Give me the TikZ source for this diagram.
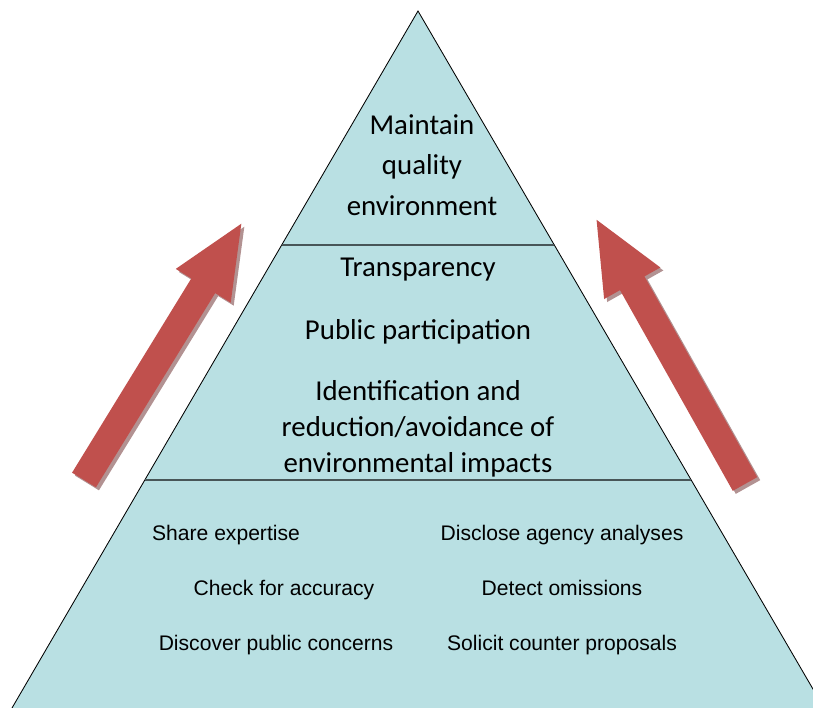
\documentclass[tikz,border=0pt]{standalone}
\usepackage{fontspec}
\setmainfont{Carlito}
\newfontfamily\arialfont{Liberation Sans}
\usetikzlibrary{arrows.meta, positioning, calc}
\definecolor{pyrfill}{RGB}{185,224,227}
\definecolor{pyrline}{RGB}{72,86,88}
\definecolor{arrowred}{RGB}{192,80,77}
\definecolor{arrowgray}{RGB}{178,146,146}

\begin{document}
\begin{tikzpicture}[x=0.025cm, y=-0.025cm,
    toptext/.style={font=\fontsize{20.5}{29}\selectfont, align=center, inner sep=0pt},
    lowtext/.style={font=\arialfont\fontsize{15}{18}\selectfont, inner sep=0pt,
        text height=11pt, text depth=3.2pt},
    upshaft/.style={line width=0.7cm, -{Triangle[length=1.9cm, width=1.45cm]}}]
    \useasboundingbox (0,0) rectangle (813,708);
    \clip (0,0) rectangle (813,708);

    % pyramid
    \coordinate (apex) at (418,11);
    \coordinate (bl) at (5,720);
    \coordinate (br) at (831,720);
    \draw[fill=pyrfill, line width=0.6pt] (apex) -- (br) -- (bl) -- cycle;
    \draw[pyrline, line width=1.8pt] ($(apex)!0.330!(bl)$) -- ($(apex)!0.330!(br)$);
    \draw[pyrline, line width=1.8pt] ($(apex)!0.6615!(bl)$) -- ($(apex)!0.6615!(br)$);

    % arrows
    \coordinate (ltail) at (84,480);
    \coordinate (ltip) at (243,221);
    \coordinate (rtail) at (745,484);
    \coordinate (rtip) at (595,217);
    \draw[upshaft, arrowgray] ($(ltail)+(3,3)$) -- ($(ltip)+(3,3)$);
    \draw[upshaft, arrowgray] ($(rtail)+(3,3)$) -- ($(rtip)+(3,3)$);
    \draw[upshaft, arrowred] (ltail) -- (ltip);
    \draw[upshaft, arrowred] (rtail) -- (rtip);

    % top and middle
    \node[toptext] (goal) at (422,165) {Maintain\\quality\\environment};
    \node[toptext] (transp) at (418,270) {Transparency};
    \node[toptext] (partic) at (418,332) {Public participation};
    \node[toptext, font=\fontsize{20.5}{25.6}\selectfont] (impact) at (418,429)
        {Identification and\\reduction/avoidance of\\environmental impacts};

    % bottom
    \node[lowtext] (share) at (226,535) {Share expertise};
    \node[lowtext] (check) at (284,590) {Check for accuracy};
    \node[lowtext] (concern) at (276,645) {Discover public concerns};
    \node[lowtext] (disclose) at (562,535) {Disclose agency analyses};
    \node[lowtext] (omit) at (562,590) {Detect omissions};
    \node[lowtext] (counter) at (562,645) {Solicit counter proposals};
\end{tikzpicture}
\end{document}
